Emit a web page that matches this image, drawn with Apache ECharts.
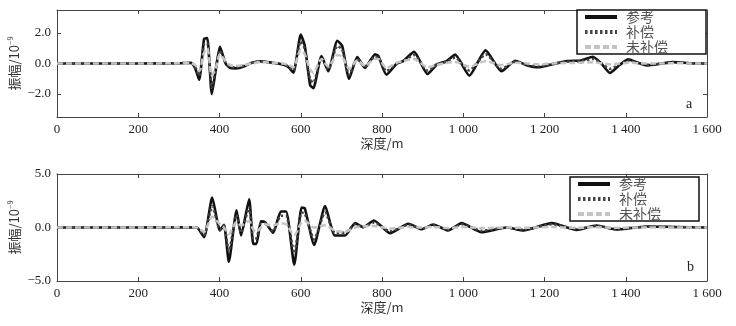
<!DOCTYPE html>
<html lang="zh">
<head>
<meta charset="utf-8">
<script src="https://cdn.jsdelivr.net/npm/echarts@6/dist/echarts.min.js"></script>
</head>
<body style="margin:0">
<div id="chart" style="width:736px;height:326px"></div>
<script>
// panel a
var depthA = [0, 100, 200, 300, 330, 340, 350, 362, 370, 381, 391, 401, 415, 426, 440, 460, 480, 500, 530, 556,
  570, 582, 600, 610, 623, 631, 651, 668, 690, 702, 719, 739, 758, 783, 791, 811, 836, 852, 879, 912,
  935, 959, 980, 1015, 1055, 1094, 1128, 1156, 1185, 1220, 1255, 1290, 1319, 1340, 1361, 1385, 1406, 1430, 1452, 1490,
  1517, 1560, 1600];
var refA = [0, 0, 0, 0.02, 0.05, -0.3, -1.07, 1.6, 1.67, -2.0, -0.4, 1.09, 0.0, -0.29, -0.32, -0.2, 0.05, 0.15, 0.05, -0.07,
  -0.25, -0.6, 1.89, 1.15, -1.4, -1.62, 0.49, -0.51, 1.49, 1.15, -1.0, 0.42, -0.29, 0.6, 0.5, -0.73, -0.02, 0.16, 0.76, -0.69,
  -0.07, 0.16, 0.58, -0.8, 0.86, -0.51, 0.18, -0.11, -0.25, -0.05, 0.16, 0.2, 0.44, 0.0, -0.62, -0.1, 0.27, 0.05, -0.13, 0.0,
  0.09, 0.02, 0];
var compA = [0, 0, 0, 0.02, 0.04, -0.2, -0.8, 1.25, 1.35, -1.6, -0.3, 0.85, 0.05, -0.2, -0.25, -0.15, 0.05, 0.12, 0.04, -0.05,
  -0.2, -0.45, 1.45, 0.95, -1.05, -1.25, 0.35, -0.4, 1.15, 0.9, -0.75, 0.3, -0.2, 0.45, 0.4, -0.5, 0.0, 0.15, 0.55, -0.45,
  -0.05, 0.12, 0.4, -0.45, 0.6, -0.35, 0.12, -0.08, -0.18, -0.02, 0.12, 0.15, 0.3, 0.0, -0.35, -0.05, 0.18, 0.03, -0.08, 0.0,
  0.06, 0.02, 0];
var uncA = [0, 0, 0, 0.02, 0.03, -0.1, -0.5, 0.7, 1.0, -0.8, -0.3, 0.6, 0.15, -0.1, -0.15, -0.1, 0.0, 0.1, 0.05, 0.0,
  -0.1, -0.25, 0.9, 0.6, -0.4, -0.6, 0.3, -0.2, 0.55, 0.45, -0.35, 0.2, -0.15, 0.3, 0.3, -0.3, 0.05, 0.15, 0.3, -0.25,
  -0.1, 0.05, 0.1, -0.2, 0.15, -0.1, 0.05, 0.0, -0.05, 0.0, 0.03, 0.05, 0.08, 0.02, -0.05, 0.0, 0.05, 0.02, 0.0, 0.0,
  0.02, 0.0, 0];

// panel b
var depthB = [0, 100, 200, 300, 344, 362, 382, 401, 411, 423, 442, 453, 473, 483, 491, 502, 512, 532, 551, 564,
  584, 602, 610, 633, 660, 684, 709, 734, 754, 780, 820, 865, 898, 926, 963, 996, 1045, 1107, 1148, 1218,
  1279, 1328, 1377, 1452, 1520, 1600];
var refB = [0, 0, 0, 0.02, 0.0, -0.91, 2.8, -0.28, 0.25, -3.2, 1.6, -0.75, 2.64, -1.53, -1.53, 0.57, 0.5, -0.5, 1.5, 1.5,
  -3.47, 1.86, 1.78, -1.63, 2.0, -0.75, -0.75, 0.41, 0.03, 0.66, -0.53, 0.35, -0.16, 0.28, -0.28, 0.41, -0.44, 0.0, -0.28, 0.41,
  -0.22, 0.19, -0.19, 0.1, 0.05, 0.0];
var compB = [0, 0, 0, 0.02, 0.0, -0.7, 2.0, -0.2, 0.2, -2.2, 1.2, -0.5, 1.9, -1.1, -1.0, 0.4, 0.4, -0.35, 1.1, 1.1,
  -2.4, 1.4, 1.3, -1.1, 1.4, -0.5, -0.5, 0.3, 0.05, 0.45, -0.35, 0.25, -0.1, 0.2, -0.2, 0.3, -0.3, 0.0, -0.2, 0.3,
  -0.15, 0.15, -0.12, 0.07, 0.04, 0.0];
var uncB = [0, 0, 0, 0.02, 0.0, -0.4, 1.0, 0.3, 0.0, -0.6, 0.5, 0.2, 0.6, -0.2, -0.4, 0.0, 0.3, 0.2, 0.4, 0.3,
  -0.7, 0.5, 0.6, 0.0, 0.2, -0.3, -0.4, 0.0, 0.1, 0.15, -0.1, 0.05, 0.0, 0.05, -0.05, 0.05, -0.05, 0.0, -0.03, 0.05,
  -0.03, 0.02, -0.02, 0.01, 0.0, 0.0];

var names = ['参考', '补偿', '未补偿'];
var yTicksA = [-2, 0, 2];

var serif = 'Liberation Serif';
var cjk = 'Noto Sans CJK SC';

function pairs(xs, ys) {
  return xs.map(function (x, i) { return [x, ys[i]]; });
}
function depthLabel(v) {
  return v >= 1000 ? Math.floor(v / 1000) + ' ' + String(v % 1000).padStart(3, '0') : String(v);
}
function ampLabel(v) {
  return (v < 0 ? '\u2212' : '') + Math.abs(v).toFixed(1);
}

var axisLine = { onZero: false, lineStyle: { color: '#444', width: 1 } };
var tick = { inside: true, length: 4, lineStyle: { color: '#444' } };

function xAxes(gi) {
  return [
    {
      gridIndex: gi, type: 'value', min: 0, max: 1600, interval: 200, position: 'bottom',
      axisLine: axisLine, axisTick: tick,
      axisLabel: { formatter: depthLabel, margin: 6, fontFamily: serif, fontSize: 13, color: '#222' },
      splitLine: { show: false },
      name: '深度/m', nameLocation: 'middle', nameGap: 20,
      nameTextStyle: { fontFamily: cjk, fontSize: 13, color: '#333' }
    },
    {
      gridIndex: gi, type: 'value', min: 0, max: 1600, interval: 200, position: 'top',
      axisLine: axisLine, axisTick: tick,
      axisLabel: { show: false }, splitLine: { show: false }
    }
  ];
}

function yAxes(gi, min, max, interval, custom) {
  var left = {
    gridIndex: gi, type: 'value', min: min, max: max, position: 'left',
    axisLine: axisLine,
    axisTick: { inside: true, length: 4, lineStyle: { color: '#444' } },
    axisLabel: { formatter: ampLabel, margin: 6, fontFamily: serif, fontSize: 13, color: '#222' },
    splitLine: { show: false },
    name: '振幅/10{sup|\u22129}', nameLocation: 'middle', nameGap: 35, nameRotate: 90,
    nameMoveOverlap: false,
    nameTextStyle: {
      fontFamily: cjk, fontSize: 13, color: '#333',
      rich: { sup: { fontFamily: serif, fontSize: 8, verticalAlign: 'top', padding: [0, 0, 7, 0], color: '#333' } }
    }
  };
  var right = {
    gridIndex: gi, type: 'value', min: min, max: max, position: 'right',
    axisLine: axisLine,
    axisTick: { inside: true, length: 4, lineStyle: { color: '#444' } },
    axisLabel: { show: false }, splitLine: { show: false }
  };
  if (custom) {
    left.axisTick.customValues = custom;
    left.axisLabel.customValues = custom;
    right.axisTick.customValues = custom;
  } else {
    left.interval = interval;
    right.interval = interval;
  }
  return [left, right];
}

function lines(xi, yi, xs, r, c, u) {
  return [
    { name: names[0], type: 'line', xAxisIndex: xi, yAxisIndex: yi, data: pairs(xs, r),
      symbol: 'none', smooth: 0.18, lineStyle: { color: '#111', width: 2.6 }, itemStyle: { color: '#111' } },
    { name: names[1], type: 'line', xAxisIndex: xi, yAxisIndex: yi, data: pairs(xs, c),
      symbol: 'none', smooth: 0.18, lineStyle: { color: '#444', width: 2.5, type: [2.5, 2.5] }, itemStyle: { color: '#444' } },
    { name: names[2], type: 'line', xAxisIndex: xi, yAxisIndex: yi, data: pairs(xs, u),
      symbol: 'none', smooth: 0.25, lineStyle: { color: '#c4c4c4', width: 2.5, type: [6, 3] }, itemStyle: { color: '#c4c4c4' } }
  ];
}

function legend(left, top) {
  return {
    data: names, left: left, top: top, orient: 'vertical',
    itemWidth: 32, itemHeight: 14, itemGap: 1,
    borderColor: '#111', borderWidth: 1.5, padding: [0, 6, 0, 6],
    backgroundColor: '#fff', selectedMode: false,
    itemStyle: { opacity: 0 },
    lineStyle: { width: 4 },
    textStyle: { fontFamily: cjk, fontSize: 14, color: '#555', width: 74, lineHeight: 14, padding: [0, 0, 0, 4] }
  };
}

var chart = echarts.init(document.getElementById('chart'));
chart.setOption({
  animation: false,
  grid: [
    { left: 57, top: 10, width: 650, height: 107, outerBoundsMode: 'none' },
    { left: 57, top: 174, width: 650, height: 107, outerBoundsMode: 'none' }
  ],
  xAxis: xAxes(0).concat(xAxes(1)),
  yAxis: yAxes(0, -3.5, 3.5, null, yTicksA).concat(yAxes(1, -5, 5, 5, null)),
  legend: [legend(577, 10), legend(570, 177)],
  series: lines(0, 0, depthA, refA, compA, uncA).concat(lines(2, 2, depthB, refB, compB, uncB)),
  graphic: [
    { type: 'text', left: 686, top: 97, style: { text: 'a', font: '14px "Liberation Serif"', fill: '#222' } },
    { type: 'text', left: 687, top: 260, style: { text: 'b', font: '14px "Liberation Serif"', fill: '#222' } }
  ]
});
</script>
</body>
</html>
